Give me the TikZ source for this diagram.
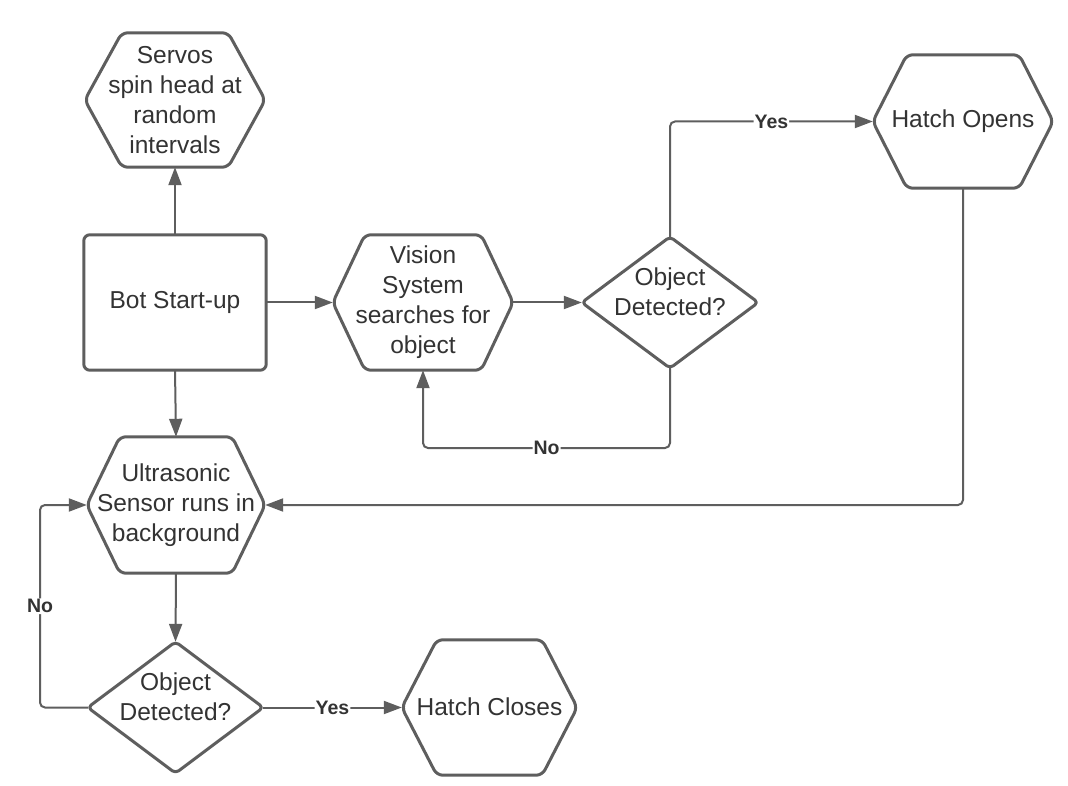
\documentclass[tikz,border=0pt]{standalone}
\usepackage{fontspec}
\setmainfont{Liberation Sans}
\usetikzlibrary{arrows.meta,calc}
\definecolor{linegray}{HTML}{5E5E5E}
\definecolor{textgray}{HTML}{333333}
\tikzset{
  box/.style={draw=none, inner sep=0pt, align=center, text=textgray, font=\fontsize{24.5}{30}\selectfont},
  outline/.style={draw=linegray, line width=3pt, rounded corners=6pt, line join=round},
  conn/.style={draw=linegray, line width=2pt, rounded corners=5pt, -{Triangle[length=18pt,width=13pt]}},
  lbl/.style={fill=white, inner sep=1pt, text=textgray, font=\fontsize{19.5}{22}\bfseries\selectfont},
  lbltxt/.style={inner sep=0pt, align=center, text=textgray, font=\fontsize{24.5}{30}\selectfont}
}
\newcommand\hexshape[2]{%
  \draw[outline] (#1.west) -- ([xshift=#2]#1.north west) -- ([xshift=-#2]#1.north east)
    -- (#1.east) -- ([xshift=-#2]#1.south east) -- ([xshift=#2]#1.south west) -- cycle;}
\newcommand\diashape[1]{%
  \draw[outline, rounded corners=4pt] (#1.west) -- (#1.north) -- (#1.east) -- (#1.south) -- cycle;}
\begin{document}
\begin{tikzpicture}[x=1pt,y=-1pt]
\useasboundingbox[fill=white] (0,0) rectangle (1068,786);
% nodes
\node[box, minimum width=180pt, minimum height=134pt] (servo) at (175,100) {Servos\\spin head at\\random\\intervals};
\node[box, minimum width=182pt, minimum height=135pt] (bot) at (175,302.5) {Bot Start-up};
\node[box, minimum width=180pt, minimum height=135pt] (vision) at (423,302.5) {Vision\\System\\searches for\\object};
\node[box, minimum width=176pt, minimum height=131pt] (dec1) at (670,302.5) {};
\node[lbltxt] (dec1t) at ([yshift=11pt]dec1.center) {Object\\Detected?};
\node[box, minimum width=180pt, minimum height=133pt] (hopen) at (963,121.5) {Hatch Opens};
\node[box, minimum width=178pt, minimum height=136pt] (ultra) at (176,505) {Ultrasonic\\Sensor runs in\\background};
\node[box, minimum width=175pt, minimum height=131pt] (dec2) at (175.5,707.5) {};
\node[lbltxt] (dec2t) at ([yshift=11pt]dec2.center) {Object\\Detected?};
\node[box, minimum width=175pt, minimum height=135pt] (hclose) at (489.5,707.5) {\raisebox{2pt}{Hatch Closes}};
% shapes
\hexshape{servo}{37pt}
\draw[outline] (bot.north west) rectangle (bot.south east);
\hexshape{vision}{32pt}
\diashape{dec1}
\hexshape{hopen}{34pt}
\hexshape{ultra}{33pt}
\diashape{dec2}
\hexshape{hclose}{35pt}
% connectors
\coordinate (c1) at (670,448);
\coordinate (c2) at (40,707.5);
\draw[conn] (bot.north) -- (servo.south);
\draw[conn] (bot.east) -- (vision.west);
\draw[conn] (vision.east) -- (dec1.west);
\draw[conn] (bot.south) -- (ultra.north);
\draw[conn] (dec1.north) |- node[pos=0.75, lbl] {Yes} (hopen.west);
\draw[conn] (dec1.south) -- (c1) -| node[pos=0.25, lbl] {No} (vision.south);
\draw[conn] (hopen.south) |- (ultra.east);
\draw[conn] (ultra.south) -- (dec2.north);
\draw[conn] (dec2.west) -- (c2) |- node[pos=0.25, lbl] {No} (ultra.west);
\draw[conn] (dec2.east) -- node[pos=0.5, lbl] {Yes} (hclose.west);
\end{tikzpicture}
\end{document}
